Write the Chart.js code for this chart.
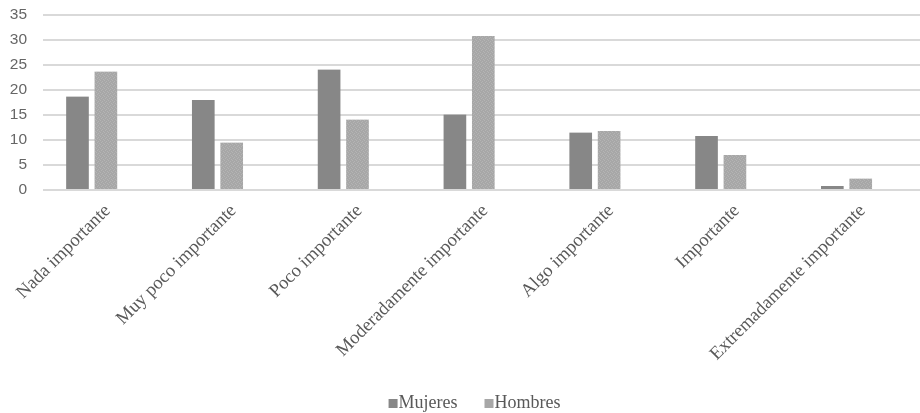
<!DOCTYPE html>
<html lang="es">
<head>
<meta charset="utf-8">
<title>Importancia por sexo</title>
<script src="https://cdn.jsdelivr.net/npm/chart.js@4.4.1/dist/chart.umd.min.js"></script>
<style>
  html, body { margin: 0; padding: 0; background: #ffffff; }
  #wrap { width: 920px; height: 413px; position: relative; }
</style>
</head>
<body>
<div id="wrap"><canvas id="chart"></canvas></div>
<script>
// Response categories
const categories = [
  'Nada importante',
  'Muy poco importante',
  'Poco importante',
  'Moderadamente importante',
  'Algo importante',
  'Importante',
  'Extremadamente importante'
];

// Percentages per group
const mujeres = [18.7, 18.0, 24.1, 15.1, 11.5, 10.8, 0.8];
const hombres = [23.7, 9.5, 14.1, 30.8, 11.8, 7.0, 2.3];

// Value axis ticks
const yTicks = [0, 5, 10, 15, 20, 25, 30, 35];

const serif = '"Liberation Serif", "Times New Roman", serif';
const sans = '"Liberation Sans", Arial, sans-serif';

const colMujeres = '#878787';
const colHombres = '#a7a7a7';

// Fine grainy fill for the second series
function speckle(base, alt) {
  const c = document.createElement('canvas');
  c.width = 4; c.height = 4;
  const g = c.getContext('2d');
  g.fillStyle = base; g.fillRect(0, 0, 4, 4);
  g.fillStyle = alt;
  [[0,0],[2,1],[1,2],[3,3]].forEach(([x, y]) => g.fillRect(x, y, 1, 1));
  return g.createPattern(c, 'repeat');
}

// Legend marker: a small square pushed right so it sits just before its label
function legendMarker(color) {
  const c = document.createElement('canvas');
  c.width = 36; c.height = 9;
  const g = c.getContext('2d');
  g.fillStyle = color;
  g.fillRect(26, 0, 9, 9);
  return c;
}
const markers = [legendMarker(colMujeres), legendMarker(colHombres)];

const toPoints = arr => arr.map((v, i) => ({ x: i, y: v }));

const barStyle = {
  barThickness: 28.4,
  borderWidth: { left: 3.2, right: 3.2, top: 0, bottom: 0 },
  borderColor: 'rgba(0,0,0,0)',
  borderSkipped: false
};

// Centre the legend under the plot area and drop it toward the bottom edge
const legendNudge = {
  id: 'legendNudge',
  afterLayout(chart) {
    const lg = chart.legend;
    if (!lg) return;
    const dx = 6, dy = 11;
    lg.left += dx; lg.right += dx;
    lg.top += dy; lg.bottom += dy;
  }
};

new Chart(document.getElementById('chart'), {
  type: 'bar',
  data: {
    datasets: [
      Object.assign({ label: 'Mujeres', data: toPoints(mujeres), backgroundColor: colMujeres }, barStyle),
      Object.assign({ label: 'Hombres', data: toPoints(hombres), backgroundColor: speckle(colHombres, '#b4b4b4') }, barStyle)
    ]
  },
  plugins: [legendNudge],
  options: {
    responsive: true,
    maintainAspectRatio: false,
    animation: false,
    layout: { padding: { top: 15, right: 0, left: 0, bottom: 2 } },
    plugins: {
      tooltip: { enabled: false },
      legend: {
        position: 'bottom',
        labels: {
          font: { family: serif, size: 18 },
          color: '#595959',
          usePointStyle: true,
          boxWidth: 18,
          boxHeight: 9,
          padding: 10,
          generateLabels(chart) {
            const items = Chart.defaults.plugins.legend.labels.generateLabels(chart);
            items.forEach((it, i) => { it.pointStyle = markers[i]; it.rotation = 0; });
            return items;
          }
        }
      }
    },
    scales: {
      x: {
        type: 'linear',
        min: -0.387,
        max: 6.584,
        offset: false,
        grid: { display: false },
        border: { display: false },
        afterBuildTicks: s => { s.ticks = categories.map((_, i) => ({ value: i })); },
        afterFit: s => { s.paddingLeft = 0; s.paddingRight = 0; s.height = 183; },
        ticks: {
          autoSkip: false,
          minRotation: 45,
          maxRotation: 45,
          padding: 2,
          labelOffset: 16,
          color: '#595959',
          font: { family: serif, size: 18.6 },
          callback: v => categories[v]
        }
      },
      y: {
        min: 0,
        max: 35,
        afterBuildTicks: s => { s.ticks = yTicks.map(v => ({ value: v })); },
        afterFit: s => { s.width = 43; s.paddingTop = 8; s.paddingBottom = 0; },
        grid: { color: '#d9d9d9', lineWidth: 2, drawTicks: false },
        border: { display: false },
        ticks: {
          padding: 16,
          color: '#666666',
          font: { family: sans, size: 15.5 }
        }
      }
    }
  }
});
</script>
</body>
</html>
